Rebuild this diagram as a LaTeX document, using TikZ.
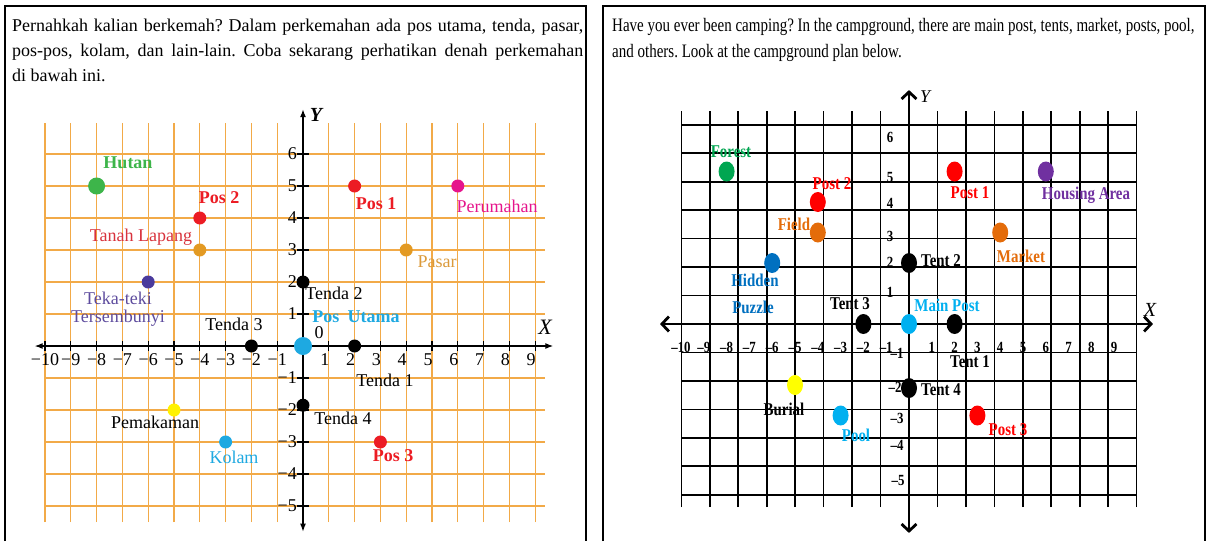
\documentclass[tikz,border=0pt]{standalone}
\usepackage{fontspec}
\setmainfont{Liberation Serif}
\newfontfamily\rhead[FakeStretch=0.79]{Liberation Serif}
\newfontfamily\rlab[FakeStretch=0.83]{Liberation Serif}
\usetikzlibrary{arrows.meta,shapes.geometric}
\frenchspacing
\definecolor{gridorange}{HTML}{F2AA48}
\definecolor{lgreen}{HTML}{3DB54A}
\definecolor{lred}{HTML}{EC1C24}
\definecolor{ltanah}{HTML}{D8323C}
\definecolor{lorange}{HTML}{E39A23}
\definecolor{lpurple}{HTML}{4A3A9C}
\definecolor{lpurpletxt}{HTML}{5E4C9E}
\definecolor{lcyan}{HTML}{1EA9E1}
\definecolor{lmagenta}{HTML}{E6148C}
\definecolor{lpasar}{HTML}{DB9A3A}
\definecolor{lyellow}{HTML}{FFF200}
\definecolor{rgreen}{HTML}{00A651}
\definecolor{rred}{HTML}{FF0000}
\definecolor{rorange}{HTML}{E46C0A}
\definecolor{rblue}{HTML}{0070C0}
\definecolor{rcyan}{HTML}{00B0F0}
\definecolor{rpurple}{HTML}{7030A0}
\definecolor{ryellow}{HTML}{FFFF00}
\tikzset{
  lgrid/.style={draw=gridorange, line width=1.3pt},
  laxis/.style={draw=black, line width=1.2pt},
  ldot/.style={circle, inner sep=0pt, minimum size=13pt},
  ltxt/.style={font=\fontsize{18}{18}\selectfont, inner sep=0pt},
  lbold/.style={font=\bfseries\fontsize{18}{18}\selectfont, inner sep=0pt},
  rgrid/.style={draw=black, line width=1.6pt},
  raxis/.style={draw=black, line width=2.8pt},
  rdot/.style={ellipse, inner sep=0pt, minimum width=16pt, minimum height=20pt},
  rtxt/.style={font=\rlab\bfseries\fontsize{18}{18}\selectfont, inner sep=0pt},
  rtick/.style={font=\rlab\bfseries\fontsize{15.5}{15.5}\selectfont, inner sep=0pt},
  rheadtxt/.style={font=\rhead\fontsize{19}{26}\selectfont, inner sep=0pt, anchor=base west},
  panel/.style={draw=black, line width=2pt},
}
\begin{document}
\begin{tikzpicture}[x=1pt,y=-1pt]
\useasboundingbox (0,0) rectangle (1207,541);
\fill[white] (0,0) rectangle (1207,541);
% panel frames
\draw[panel] (5,541) -- (5,6) -- (586,6) -- (586,541);
\draw[panel] (603,541) -- (603,6) -- (1205,6) -- (1205,541);
% headers
\node[anchor=north west, text width=571pt, align=justify, inner sep=0pt,
      font=\fontsize{18}{25}\selectfont] (lhead) at (12,18.5)
 {Pernahkah kalian berkemah? Dalam perkemahan ada pos utama, tenda, pasar,\linebreak
  pos-pos, kolam, dan lain-lain. Coba sekarang perhatikan denah perkemahan\linebreak
  di bawah ini.};
\node[rheadtxt] (rhead1) at (612,31)
 {Have you ever been camping? In the campground, there are main post, tents, market, posts, pool,};
\node[rheadtxt] (rhead2) at (612,57)
 {and others. Look at the campground plan below.};

% ================= LEFT PANEL =================
\begin{scope}[shift={(303pt,-346pt)},x=25.8pt,y=32pt]
  \foreach \i in {-10,...,9}{\draw[lgrid] (\i,-5.5) -- (\i,6.97);}
  \foreach \j in {-5,...,6}{\draw[lgrid] (-10.03,\j) -- (9.38,\j);}
  \draw[laxis,{Latex[length=8pt,width=6pt]}-{Latex[length=8pt,width=6pt]}] (-10.4,0) -- (9.7,0);
  \draw[laxis,{Latex[length=8pt,width=6pt]}-{Latex[length=8pt,width=6pt]}] (0,-5.8) -- (0,7.4);
  \foreach \i in {-10,...,-1,1,2,...,9}{\draw[laxis] (\i,0) ++(0pt,-5pt) -- ++(0pt,10pt);}
  \foreach \j in {-5,...,-1,1,2,...,6}{\draw[laxis] (0,\j) ++(-6pt,0pt) -- ++(12pt,0pt);}
  \foreach \i in {1,...,10}{\node[ltxt,yshift=-14pt] (lxn\i) at (-\i,0) {−\i};}
  \foreach \i in {1,...,9}{\node[ltxt,xshift=-4pt,yshift=-14pt] (lxp\i) at (\i,0) {\i};}
  \foreach \j in {1,...,6}{\node[ltxt,anchor=east,xshift=-6pt] (lyp\j) at (0,\j) {\j};}
  \foreach \j in {1,...,5}{\node[ltxt,anchor=east,xshift=-6pt] (lyn\j) at (0,-\j) {−\j};}
  % dots
  \node[ldot,fill=lgreen,minimum size=17pt] (hutan) at (-8,5) {};
  \node[ldot,fill=lred] (pos2) at (-4,4) {};
  \node[ldot,fill=lorange] (tanah) at (-4,3) {};
  \node[ldot,fill=lpurple] (teka) at (-6,2) {};
  \node[ldot,fill=black] (tenda2) at (0,2) {};
  \node[ldot,fill=black] (tenda3) at (-2,0) {};
  \node[ldot,fill=black] (tenda1) at (2,0) {};
  \node[ldot,fill=black] (tenda4) at (0,-1.85) {};
  \node[ldot,fill=lcyan,minimum size=18pt] (posutama) at (0,0) {};
  \node[ldot,fill=lred] (pos1) at (2,5) {};
  \node[ldot,fill=lmagenta] (perumahan) at (6,5) {};
  \node[ldot,fill=lorange] (pasar) at (4,3) {};
  \node[ldot,fill=lyellow] (pemakaman) at (-5,-2) {};
  \node[ldot,fill=lcyan] (kolam) at (-3,-3) {};
  \node[ldot,fill=lred] (pos3) at (3,-3) {};
\end{scope}
\node[ltxt] (lzero) at (319,333) {0};
\node[font=\bfseries\itshape\fontsize{20}{20}\selectfont,inner sep=0pt] (lY) at (316,115) {Y};
\node[font=\itshape\fontsize{22}{22}\selectfont,inner sep=0pt] (lX) at (545,327) {X};
% left labels
\node[lbold,text=lgreen] (thutan) at (128,163) {Hutan};
\node[lbold,text=lred] (tpos2) at (219,198) {Pos 2};
\node[ltxt,text=ltanah] (ttanah) at (141,237) {Tanah Lapang};
\node[ltxt,text=lpurpletxt] (tteka1) at (118,298) {Teka-teki};
\node[ltxt,text=lpurpletxt] (tteka2) at (118,318) {Tersembunyi};
\node[ltxt] (ttenda2) at (334,293) {Tenda 2};
\node[lbold,text=lcyan] (tposutama) at (356,317) {Pos\hspace{0.45em}Utama};
\node[ltxt] (ttenda3) at (234,324) {Tenda 3};
\node[ltxt] (ttenda1) at (385,380) {Tenda 1};
\node[ltxt] (ttenda4) at (343,418) {Tenda 4};
\node[lbold,text=lred] (tpos3) at (393,456) {Pos 3};
\node[ltxt] (tpemakaman) at (155,422) {Pemakaman};
\node[ltxt,text=lcyan] (tkolam) at (234,457) {Kolam};
\node[lbold,text=lred] (tpos1) at (376,204) {Pos 1};
\node[ltxt,text=lmagenta] (tperumahan) at (497,206) {Perumahan};
\node[ltxt,text=lpasar] (tpasar) at (437,262) {Pasar};

% ================= RIGHT PANEL =================
\begin{scope}[shift={(909pt,-324pt)},x=22.8pt,y=30.5pt]
  \draw[rgrid] (-10,-6) grid (10,7);
  \draw[raxis,{Straight Barb[length=7pt,width=15pt]}-{Straight Barb[length=7pt,width=15pt]}] (-10.92,0) -- (10.7,0);
  \draw[raxis,{Straight Barb[length=7pt,width=15pt]}-{Straight Barb[length=7pt,width=15pt]}] (0,-6.85) -- (0,7.67);
  \foreach \i in {1,...,10}{\node[rtick,yshift=-23pt] (rxn\i) at (-\i,0) {–\i};}
  \foreach \i in {1,...,9}{\node[rtick,yshift=-23pt] (rxp\i) at (\i,0) {\i};}
  \node[rdot,fill=rgreen] (forest) at (-8,5) {};
  \node[rdot,fill=rred] (post2) at (-4,4) {};
  \node[rdot,fill=rorange] (field) at (-4,3) {};
  \node[rdot,fill=rblue] (hidden) at (-6,2) {};
  \node[rdot,fill=black] (tent2) at (0,2) {};
  \node[rdot,fill=black] (tent3) at (-2,0) {};
  \node[rdot,fill=black] (tent1) at (2,0) {};
  \node[rdot,fill=black] (tent4) at (0,-2.1) {};
  \node[rdot,fill=rcyan] (mainpost) at (0,0) {};
  \node[rdot,fill=rred] (post1) at (2,5) {};
  \node[rdot,fill=rpurple] (housing) at (6,5) {};
  \node[rdot,fill=rorange] (market) at (4,3) {};
  \node[rdot,fill=ryellow] (burial) at (-5,-2) {};
  \node[rdot,fill=rcyan] (pool) at (-3,-3) {};
  \node[rdot,fill=rred] (post3) at (3,-3) {};
\end{scope}
\node[font=\itshape\fontsize{18}{18}\selectfont,inner sep=0pt] (rY) at (925,97) {Y};
\node[font=\itshape\fontsize{20}{20}\selectfont,inner sep=0pt] (rX) at (1150,310) {X};
% right y tick labels
\foreach \t/\py in {6/137,5/177,4/203,3/236,2/262,1/292}
  {\node[rtick] (ryp\t) at (890,\py) {\t};}
\foreach \t/\px/\py in {1/897/353,2/895/387,3/897/418,4/897/445,5/898/480}
  {\node[rtick] (ryn\t) at (\px,\py) {–\t};}
% right labels
\node[rtxt,text=rgreen] (tforest) at (731,152) {Forest};
\node[rtxt,text=rred] (tpost2) at (832,184) {Post 2};
\node[rtxt,text=rorange] (tfield) at (794,224) {Field};
\node[rtxt,text=rblue] (thidden) at (755,280) {Hidden};
\node[rtxt,text=rblue] (tpuzzle) at (753,307) {Puzzle};
\node[rtxt] (ttent3) at (850,304) {Tent 3};
\node[rtxt] (ttent2) at (941,261) {Tent 2};
\node[rtxt,text=rcyan] (tmainpost) at (947,305) {Main Post};
\node[rtxt,text=rred] (tpost1) at (970,193) {Post 1};
\node[rtxt,text=rpurple] (thousing) at (1086,195) {Housing Area};
\node[rtxt,text=rorange] (tmarket) at (1021,256) {Market};
\node[rtxt] (ttent1) at (970,362) {Tent 1};
\node[rtxt] (ttent4) at (941,390) {Tent 4};
\node[rtxt,text=rred] (tpost3) at (1008,430) {Post 3};
\node[rtxt] (tburial) at (784,409) {Burial};
\node[rtxt,text=rcyan] (tpool) at (856,435) {Pool};
\end{tikzpicture}
\end{document}
